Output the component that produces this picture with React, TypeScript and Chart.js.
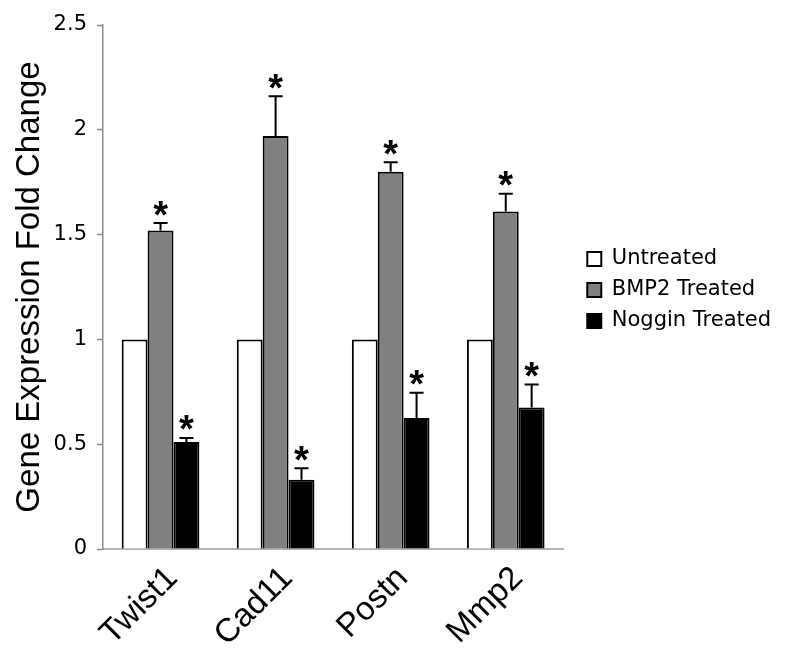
import React, { useEffect, useRef } from "react";
import { Chart, registerables } from "chart.js";

Chart.register(...registerables);

const categories = ["Twist1", "Cad11", "Postn", "Mmp2"];
const seriesNames = ["Untreated", "BMP2 Treated", "Noggin Treated"];
const untreated = [1, 1, 1, 1];
const bmp2 = [1.52, 1.97, 1.8, 1.61];
const bmp2Err = [0.035, 0.19, 0.045, 0.085];
const noggin = [0.51, 0.33, 0.625, 0.675];
const nogginErr = [0.02, 0.055, 0.12, 0.11];
const seriesColors = ["#ffffff", "#808080", "#000000"];
const yMin = 0;
const yMax = 2.5;
const yStep = 0.5;

const errorSets: (number[] | null)[] = [null, bmp2Err, nogginErr];

const errorBarPlugin = {
  id: "errorBars",
  afterDatasetsDraw(chart: any) {
    const ctx = chart.ctx;
    const y = chart.scales.y;
    chart.data.datasets.forEach((ds: any, di: number) => {
      const errs = errorSets[di];
      if (!errs) return;
      const meta = chart.getDatasetMeta(di);
      meta.data.forEach((bar: any, i: number) => {
        const v = ds.data[i];
        const base = y.getPixelForValue(v);
        const top = y.getPixelForValue(v + errs[i]);
        ctx.save();
        ctx.strokeStyle = "#000";
        ctx.lineWidth = 2;
        ctx.beginPath();
        ctx.moveTo(bar.x, base);
        ctx.lineTo(bar.x, top);
        ctx.moveTo(bar.x - 7, top);
        ctx.lineTo(bar.x + 7, top);
        ctx.stroke();
        ctx.font = 'bold 38px "Liberation Sans", Arial, sans-serif';
        ctx.textAlign = "center";
        ctx.textBaseline = "alphabetic";
        ctx.fillStyle = "#000";
        const m = ctx.measureText("*");
        const mid = (m.actualBoundingBoxAscent - m.actualBoundingBoxDescent) / 2;
        ctx.fillText("*", bar.x, top - 15 + mid);
        ctx.restore();
      });
    });
  },
};

export default function App() {
  const ref = useRef<HTMLCanvasElement | null>(null);
  useEffect(() => {
    if (!ref.current) return;
    const data = [untreated, bmp2, noggin];
    const chart = new Chart(ref.current, {
      type: "bar",
      data: {
        labels: categories,
        datasets: seriesNames.map((name, i) => ({
          label: name,
          data: data[i],
          backgroundColor: seriesColors[i],
          borderColor: "#000",
          borderWidth: 2,
          categoryPercentage: 0.675,
          barPercentage: 1,
          yAxisID: "y",
        })),
      },
      options: {
        animation: false,
        responsive: true,
        maintainAspectRatio: false,
        layout: { padding: { top: 25, right: 4, left: 0, bottom: 0 } },
        plugins: {
          tooltip: { enabled: false },
          legend: {
            position: "right",
            align: "start",
            maxWidth: 260,
            title: {
              display: true,
              text: " ",
              font: { size: 10 },
              padding: { top: 201.5, bottom: 0 },
            },
            labels: {
              boxWidth: 14,
              boxHeight: 14,
              padding: 10,
              color: "#000",
              font: { family: '"DejaVu Sans", Verdana, sans-serif', size: 21 },
            },
          },
        },
        scales: {
          x: {
            grid: { display: false, tickLength: 6 },
            border: { color: "#b4b4b4", width: 2 },
            ticks: {
              color: "#000",
              minRotation: 45,
              maxRotation: 45,
              padding: 4,
              labelOffset: 12,
              font: { family: '"Liberation Sans", Arial, sans-serif', size: 33 },
            },
            afterFit: (s: any) => {
              s.height = 107;
            },
          },
          y: {
            min: yMin,
            max: yMax,
            ticks: {
              stepSize: yStep,
              color: "#000",
              padding: 10,
              font: { family: '"DejaVu Sans", Verdana, sans-serif', size: 21 },
              callback: (v: any) => String(v),
            },
            grid: { drawOnChartArea: false, tickLength: 6, color: "#8c8c8c", tickWidth: 1.5 },
            border: { color: "#8c8c8c", width: 1.5 },
            title: {
              display: true,
              text: "Gene Expression Fold Change",
              color: "#000",
              font: { family: '"Liberation Sans", Arial, sans-serif', size: 33 },
              padding: { top: 10, bottom: 0 },
            },
            afterFit: (s: any) => {
              s.width = 103;
            },
          },
          yRight: {
            position: "right",
            display: true,
            min: 0,
            max: 1,
            grid: { display: false, drawTicks: false },
            border: { display: false },
            ticks: { display: false },
            afterFit: (s: any) => {
              s.width = 14;
            },
          },
        },
      },
      plugins: [errorBarPlugin],
    });
    return () => chart.destroy();
  }, []);
  return (
    <div style={{ position: "fixed", left: 0, top: 0, width: 785, height: 656, background: "#fff" }}>
      <canvas ref={ref} />
    </div>
  );
}
